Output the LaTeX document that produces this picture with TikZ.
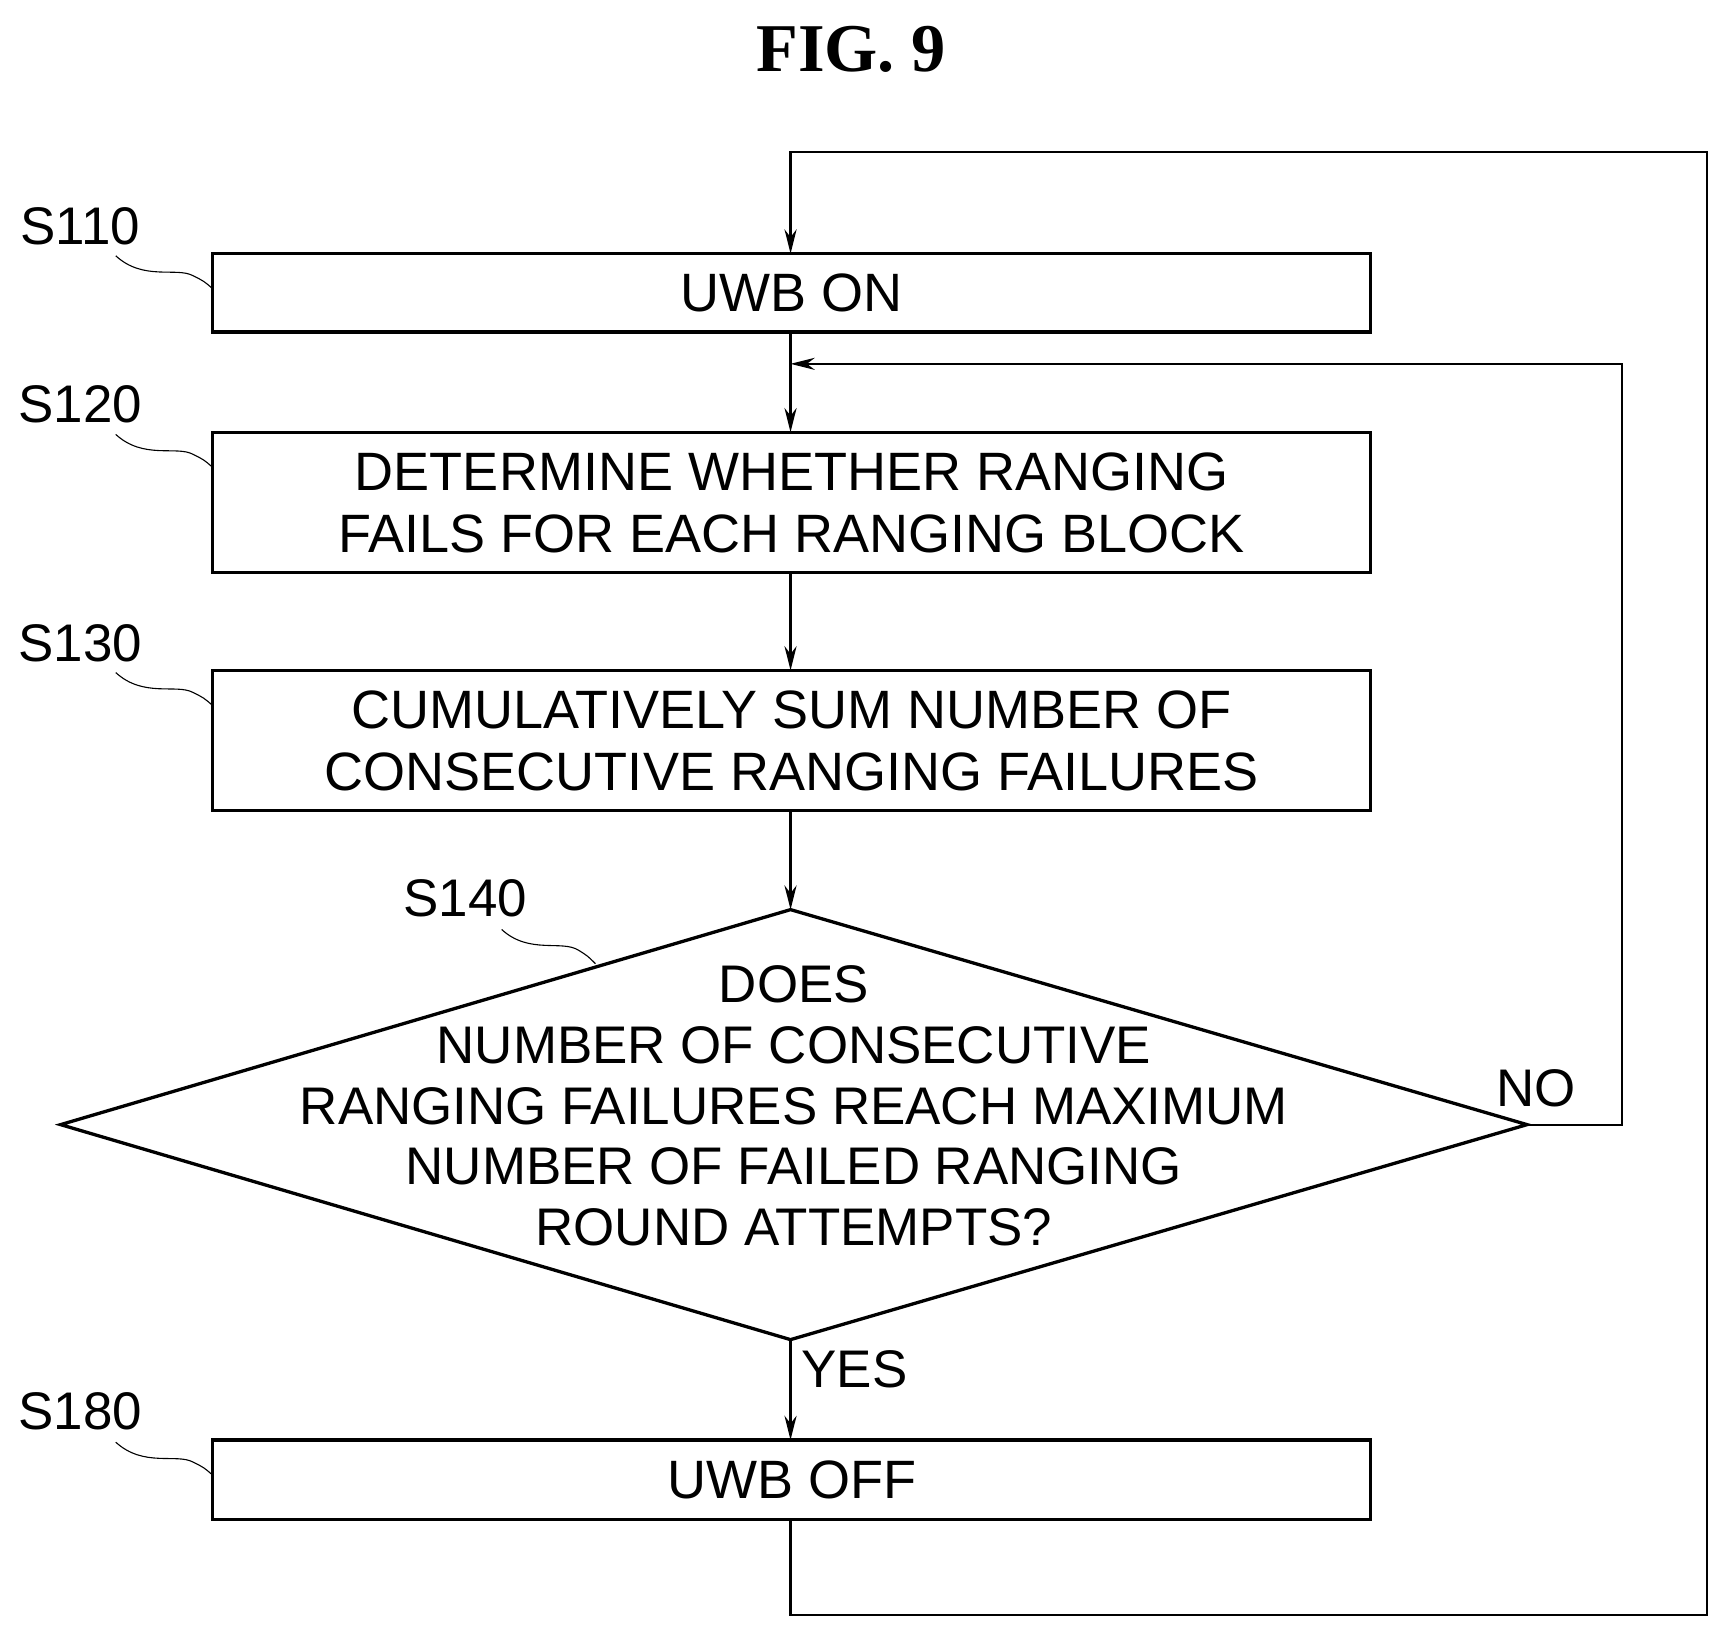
\documentclass[tikz,border=0pt]{standalone}
\usepackage{fontspec}
\setmainfont{Liberation Sans}
\newfontfamily\titlefont{Liberation Serif}
\usetikzlibrary{arrows.meta}
\begin{document}
\begin{tikzpicture}[x=1pt,y=-1pt,
  box/.style={draw,line width=3pt},
  txt/.style={font=\fontsize{49}{56}\selectfont,align=center,inner sep=0},
  lbl/.style={font=\fontsize{48}{56}\selectfont,inner sep=0},
  conn/.style={line width=2pt},
  arr/.style={conn,-{Stealth[length=22pt,width=11pt]}},
  lead/.style={line width=1pt}]
\useasboundingbox (0,0) rectangle (1560,1478);
\node[font=\titlefont\bfseries\fontsize{62}{70}\selectfont] (title) at (772,45) {FIG. 9};
\draw[box] (193,230) rectangle (1243,301);
\node[txt] (b1) at (718,266) {UWB ON};
\draw[box] (193,392) rectangle (1243,519);
\node[txt] (b2) at (718,456) {DETERMINE WHETHER RANGING\\FAILS FOR EACH RANGING BLOCK};
\draw[box] (193,608) rectangle (1243,735);
\node[txt] (b3) at (718,672) {CUMULATIVELY SUM NUMBER OF\\CONSECUTIVE RANGING FAILURES};
\draw[box] (55,1020) -- (717,825) -- (1385,1020) -- (717,1215) -- cycle;
\node[txt,font=\fontsize{48}{55}\selectfont] (d) at (720,1003) {DOES\\NUMBER OF CONSECUTIVE\\RANGING FAILURES REACH MAXIMUM\\NUMBER OF FAILED RANGING\\ROUND ATTEMPTS?};
\draw[box] (193,1306) rectangle (1243,1378);
\node[txt] (b4) at (718,1342) {UWB OFF};
\coordinate (t1) at (717,230); \coordinate (bt1) at (717,301);
\coordinate (t2) at (717,392); \coordinate (bt2) at (717,519);
\coordinate (t3) at (717,608); \coordinate (bt3) at (717,735);
\coordinate (dt) at (717,825); \coordinate (db) at (717,1215); \coordinate (dr) at (1385,1020);
\coordinate (t4) at (717,1306); \coordinate (bt4) at (717,1378);
\coordinate (j) at (717,330);
\draw[arr] (bt1) -- (t2);
\draw[arr] (bt2) -- (t3);
\draw[arr] (bt3) -- (dt);
\draw[arr] (db) -- (t4);
\draw[arr] (bt4) -- (717,1465) -- (1548,1465) -- (1548,138) -- (717,138) -- (t1);
\draw[arr] (dr) -- (1471,1020) -- (1471,330) -- (j);
\node[lbl] (no) at (1393,987) {NO};
\node[lbl] (yes) at (775,1242) {YES};
\node[lbl] (s110) at (73,205) {S110};
\node[lbl] (s120) at (73,367) {S120};
\node[lbl] (s130) at (73,583) {S130};
\node[lbl] (s140) at (422,815) {S140};
\node[lbl] (s180) at (73,1280) {S180};
\foreach \y in {230,392,608,1306}
  \draw[lead] (105,\y+2) .. controls (130,\y+25) and (160,\y+12) .. (175,\y+20) .. controls (185,\y+25) .. (193,\y+32);
\draw[lead] (455,843) .. controls (480,866) and (510,852) .. (525,862) .. controls (533,867) .. (540,874);
\end{tikzpicture}
\end{document}
